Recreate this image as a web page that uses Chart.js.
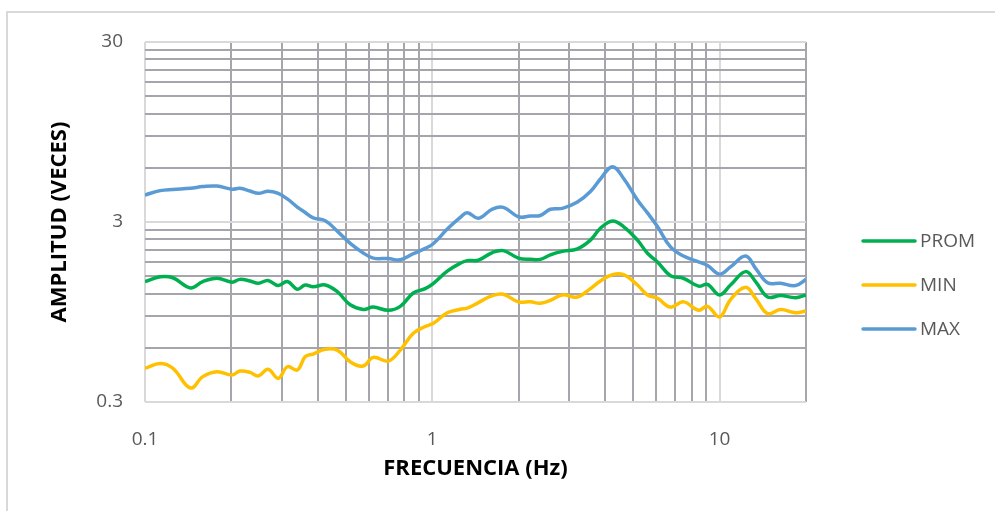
<!DOCTYPE html>
<html>
<head>
<meta charset="utf-8">
<script src="https://cdn.jsdelivr.net/npm/chart.js@4"></script>
<style>
  html, body { margin: 0; padding: 0; background: #fff; }
  #wrap { width: 995px; height: 511px; position: relative; }
</style>
</head>
<body>
<div id="wrap"><canvas id="chart" width="995" height="511"></canvas></div>
<script>
// Frequency samples (Hz), shared by all three curves
const freqs = [0.1, 0.113, 0.125, 0.144, 0.159, 0.178, 0.201, 0.214, 0.232, 0.248,
  0.268, 0.291, 0.313, 0.339, 0.361, 0.385, 0.424, 0.467, 0.518, 0.575,
  0.623, 0.703, 0.774, 0.859, 0.945, 1.01, 1.128, 1.252, 1.324, 1.447,
  1.619, 1.768, 1.994, 2.195, 2.378, 2.577, 2.838, 3.201, 3.553, 3.849,
  4.239, 4.63, 5.18, 5.613, 6.081, 6.75, 7.492, 8.451, 9.082, 10,
  10.92, 12.32, 13.35, 14.7, 16.31, 18.4, 20];

const prom = [1.40, 1.49, 1.47, 1.29, 1.40, 1.46, 1.39, 1.44, 1.41, 1.37,
  1.42, 1.33, 1.40, 1.27, 1.34, 1.31, 1.34, 1.23, 1.04, 0.98,
  1.01, 0.97, 1.02, 1.21, 1.28, 1.37, 1.60, 1.77, 1.83, 1.84,
  2.03, 2.08, 1.89, 1.86, 1.86, 1.97, 2.06, 2.13, 2.38, 2.77,
  3.04, 2.83, 2.38, 2.01, 1.80, 1.51, 1.46, 1.32, 1.35, 1.18,
  1.34, 1.59, 1.40, 1.15, 1.17, 1.14, 1.18];

const minVals = [0.462, 0.491, 0.462, 0.359, 0.415, 0.442, 0.424, 0.446, 0.438, 0.418,
  0.456, 0.406, 0.471, 0.452, 0.535, 0.554, 0.589, 0.583, 0.502, 0.475,
  0.531, 0.507, 0.583, 0.722, 0.788, 0.821, 0.94, 0.982, 0.998, 1.07,
  1.17, 1.19, 1.08, 1.08, 1.06, 1.10, 1.18, 1.15, 1.28, 1.41,
  1.53, 1.53, 1.34, 1.18, 1.13, 1.01, 1.08, 0.97, 1.02, 0.89,
  1.11, 1.30, 1.13, 0.93, 0.98, 0.94, 0.96];

const maxVals = [4.24, 4.48, 4.55, 4.62, 4.72, 4.75, 4.56, 4.62, 4.46, 4.33,
  4.44, 4.32, 4.03, 3.63, 3.39, 3.16, 3.05, 2.67, 2.28, 2.02,
  1.89, 1.88, 1.85, 2.00, 2.14, 2.28, 2.74, 3.18, 3.38, 3.15,
  3.54, 3.62, 3.21, 3.24, 3.26, 3.53, 3.57, 3.87, 4.43, 5.20,
  6.09, 5.25, 3.98, 3.37, 2.83, 2.18, 1.94, 1.80, 1.72, 1.54,
  1.69, 1.94, 1.66, 1.38, 1.37, 1.33, 1.44];

const seriesNames = ["PROM", "MIN", "MAX"];
const seriesColors = ["#00B050", "#FFC000", "#5B9BD5"];

// gridline positions (Excel style log axes: minor = multiples inside each decade)
const xTicks = [0.1, 0.2, 0.3, 0.4, 0.5, 0.6, 0.7, 0.8, 0.9, 1, 2, 3, 4, 5, 6, 7, 8, 9, 10, 20];
const xMajor = [0.1, 1, 10];
const yTicks = [0.3, 0.6, 0.9, 1.2, 1.5, 1.8, 2.1, 2.4, 2.7, 3, 6, 9, 12, 15, 18, 21, 24, 27, 30];
const yMajor = [0.3, 3, 30];

const MAJOR_GRID = "#D9D9D9";
const MINOR_GRID = "#A5A5AB";
const TICK_COLOR = "#595959";
const FONT = "'Open Sans', 'Liberation Sans', sans-serif";

function isMajor(list, v) {
  return list.some((m) => Math.abs(m - v) / m < 1e-6);
}

function toPoints(vals) {
  return freqs.map((f, i) => ({ x: f, y: vals[i] }));
}

const legendPlugin = {
  id: "sideLegend",
  afterDraw(chart) {
    const ctx = chart.ctx;
    const rows = [241, 285, 329];
    ctx.save();
    chart.data.datasets.forEach((ds, i) => {
      const y = rows[i];
      ctx.strokeStyle = ds.borderColor;
      ctx.lineWidth = 3.5;
      ctx.lineCap = "round";
      ctx.beginPath();
      ctx.moveTo(863, y);
      ctx.lineTo(915, y);
      ctx.stroke();
      ctx.fillStyle = TICK_COLOR;
      ctx.font = "19px " + FONT;
      ctx.textBaseline = "middle";
      ctx.textAlign = "left";
      ctx.fillText(ds.label, 920, y + 1);
    });
    ctx.restore();
  },
};

const framePlugin = {
  id: "frame",
  beforeDraw(chart) {
    const ctx = chart.ctx;
    ctx.save();
    ctx.fillStyle = "#fff";
    ctx.fillRect(0, 0, chart.width, chart.height);
    ctx.strokeStyle = "#D9D9D9";
    ctx.lineWidth = 2;
    ctx.beginPath();
    ctx.moveTo(7, chart.height);
    ctx.lineTo(7, 12);
    ctx.lineTo(chart.width, 12);
    ctx.stroke();
    ctx.restore();
  },
};

new Chart(document.getElementById("chart"), {
  type: "line",
  data: {
    datasets: [prom, minVals, maxVals].map((vals, i) => ({
      label: seriesNames[i],
      data: toPoints(vals),
      borderColor: seriesColors[i],
      backgroundColor: seriesColors[i],
      borderWidth: 3.5,
      pointRadius: 0,
      tension: 0.4,
      fill: false,
    })),
  },
  options: {
    responsive: false,
    animation: false,
    devicePixelRatio: 1,
    layout: { padding: { left: 0, right: 189, top: 42, bottom: 29 } },
    plugins: { legend: { display: false }, tooltip: { enabled: false } },
    scales: {
      x: {
        type: "logarithmic",
        min: 0.1,
        max: 20,
        afterBuildTicks: (scale) => { scale.ticks = xTicks.map((v) => ({ value: v })); },
        afterFit: (scale) => { scale.height = 80; },
        grid: {
          color: (c) => (isMajor(xMajor, c.tick.value) ? MAJOR_GRID : MINOR_GRID),
          lineWidth: 2,
          drawTicks: false,
        },
        border: { display: false },
        ticks: {
          autoSkip: false,
          maxRotation: 0,
          padding: 26,
          color: TICK_COLOR,
          font: { family: FONT, size: 19 },
          callback: (v) => (isMajor(xMajor, v) ? String(v) : ""),
        },
        title: {
          display: true,
          text: "FRECUENCIA (Hz)",
          color: "#000",
          font: { family: FONT, size: 22, weight: "bold" },
          padding: { bottom: 0 },
        },
      },
      y: {
        type: "logarithmic",
        min: 0.3,
        max: 30,
        afterBuildTicks: (scale) => { scale.ticks = yTicks.map((v) => ({ value: v })); },
        afterFit: (scale) => { scale.width = 145; },
        grid: {
          color: (c) => (isMajor(yMajor, c.tick.value) ? MAJOR_GRID : MINOR_GRID),
          lineWidth: 2,
          drawTicks: false,
        },
        border: { display: false },
        ticks: {
          autoSkip: false,
          padding: 22,
          color: TICK_COLOR,
          font: { family: FONT, size: 19 },
          callback: (v) => (isMajor(yMajor, v) ? String(v) : ""),
        },
        title: {
          display: true,
          text: "AMPLITUD (VECES)",
          color: "#000",
          font: { family: FONT, size: 22, weight: "bold" },
          padding: { top: 47 },
        },
      },
    },
  },
  plugins: [framePlugin, legendPlugin],
});
</script>
</body>
</html>
